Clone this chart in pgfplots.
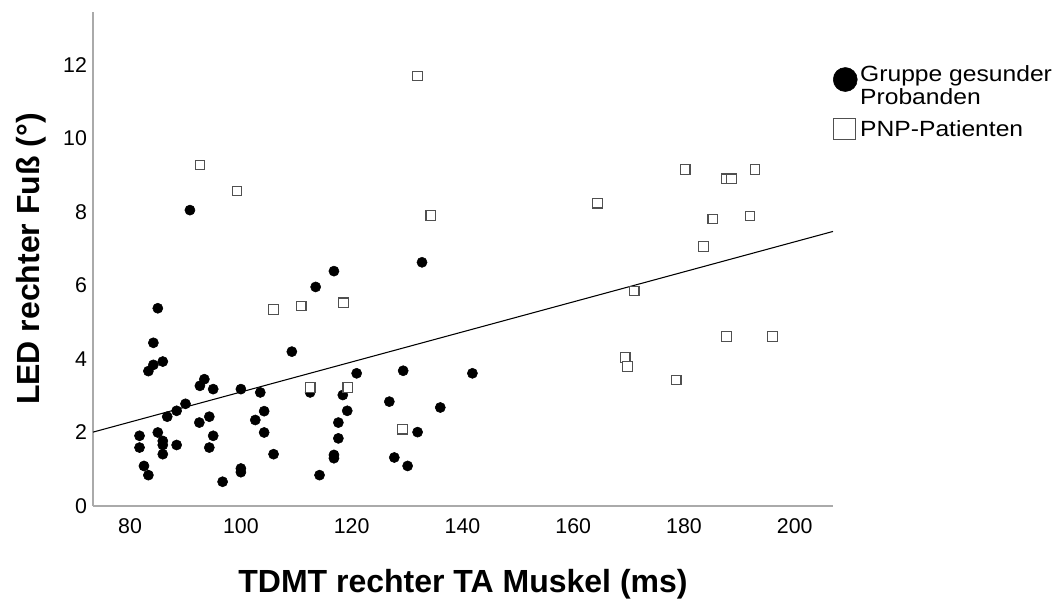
\documentclass[border=0pt]{standalone}
\usepackage{fontspec}
\setmainfont{Liberation Sans}
\newfontfamily\legfont[FakeStretch=1.12]{Liberation Sans}
\usepackage{pgfplots}
\pgfplotsset{compat=1.18}
\definecolor{axgray}{RGB}{170,170,170}
\definecolor{sqgray}{RGB}{80,80,80}
\begin{document}
\begin{tikzpicture}
\useasboundingbox (-69.75pt,-71.25pt) rectangle (728.25pt,379.5pt);
\begin{axis}[
  scale only axis,
  width=555pt, height=370.5pt,
  xmin=73.3, xmax=206.9, ymin=0, ymax=13.44,
  axis lines=left,
  axis line style={axgray, line width=1pt, -},
  major tick length=0pt,
  xtick={80,100,...,200},
  ytick={0,2,...,12},
  /pgf/number format/assume math mode=true,
  tick label style={font=\fontsize{16}{19}\selectfont, black},
  xticklabel style={yshift=-6pt},
  yticklabel style={xshift=-1pt},
  xlabel={TDMT rechter TA Muskel (ms)},
  ylabel={LED rechter Fuß (°)},
  label style={font=\bfseries\fontsize{24}{28}\selectfont},
  xlabel style={at={(axis description cs:0.5,-0.158)}, anchor=center},
  ylabel style={at={(axis description cs:-0.084,0.5)}, anchor=center},
  legend style={draw=none, fill=none, at={(axis description cs:1,0.897)}, anchor=north west,
    inner sep=0pt, outer sep=0pt, row sep=6pt, column sep=0pt,
    font=\legfont\fontsize{16.5}{17.5}\selectfont,
    cells={align=left, anchor=west}},
  legend cell align=left,
]
\addplot[only marks, mark=*, mark size=3.8pt, mark options={fill=black, draw=black},
  legend image code/.code={\fill[black] (9pt,5pt) circle (9pt);}]
coordinates {
(84.2,4.44) (83.3,3.67) (84.2,3.84) (85.9,3.93) (85.0,5.38) (90.8,8.05)
(92.6,3.27) (93.4,3.45) (95.0,3.18) (100.0,3.18) (103.5,3.09) (109.2,4.20) (112.5,3.09)
(113.5,5.96) (116.8,6.39) (120.9,3.61) (118.4,3.02) (119.2,2.59) (117.6,2.27) (117.6,1.84)
(116.8,1.39) (116.8,1.30) (114.2,0.84)
(104.2,2.58) (102.6,2.34) (104.2,2.00) (105.9,1.41) (100.0,1.02) (100.0,0.92) (96.7,0.66)
(94.3,2.43) (92.5,2.27) (95.0,1.91) (94.3,1.59) (90.0,2.78) (88.4,2.59) (86.7,2.43) (88.4,1.66)
(85.0,2.00) (85.9,1.77) (85.9,1.66) (85.9,1.41) (81.7,1.91) (81.7,1.59) (82.5,1.09) (83.3,0.84)
(132.7,6.63) (129.3,3.68) (141.8,3.61) (126.8,2.84) (136.0,2.68) (131.9,2.01) (127.7,1.32) (130.1,1.09)
};
\addlegendentry{Gruppe gesunder\\Probanden}
\addplot[only marks, mark=square*, mark size=3.6pt, mark options={fill=white, draw=sqgray, line width=0.9pt},
  legend image code/.code={\draw[sqgray, fill=white, line width=0.8pt] (0.5pt,-8pt) rectangle (16.5pt,8pt);}]
coordinates {
(92.6,9.28) (99.3,8.57) (105.9,5.35) (110.9,5.44) (118.5,5.53) (112.5,3.22) (119.3,3.22)
(131.9,11.70) (134.3,7.90) (129.2,2.09) (164.4,8.24) (169.4,4.04) (169.8,3.79) (171.0,5.85)
(178.6,3.43) (180.2,9.16) (183.5,7.06) (185.2,7.81) (187.7,8.90) (188.6,8.90) (191.9,7.89)
(192.8,9.16) (187.7,4.61) (196.0,4.61)
};
\addlegendentry{PNP-Patienten}
\addplot[black, line width=0.8pt, forget plot] coordinates {(73.3,2.01) (206.9,7.47)};
\end{axis}
\end{tikzpicture}
\end{document}
